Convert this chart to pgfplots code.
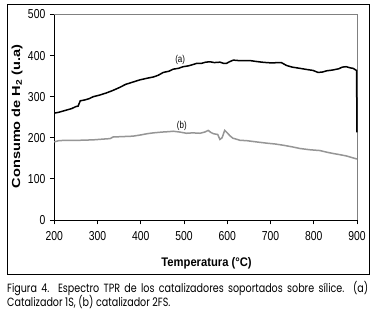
\documentclass[border=0pt]{standalone}
\usepackage{fontspec}
\usepackage{graphicx}
\usepackage{pgfplots}
\pgfplotsset{compat=1.18}
\setmainfont{Liberation Sans}
\newfontfamily\tickfont[FakeStretch=0.8]{Liberation Sans}
\newfontfamily\labfont[FakeStretch=0.9]{Liberation Sans}
\newfontfamily\ylabfont[FakeStretch=1.25]{Liberation Sans}
\newfontfamily\capfont[FakeStretch=0.8]{Poppins}
\definecolor{curveb}{RGB}{150,150,150}
\definecolor{border}{RGB}{128,128,128}
\begin{document}
\begin{tikzpicture}
\useasboundingbox (0,0) rectangle (376bp,315bp);
\fill[white] (0,0) rectangle (376bp,315bp);
\draw[black, line width=1bp] (7bp,40bp) rectangle (369bp,310bp);
\begin{axis}[
  at={(54.3bp,95bp)}, anchor=south west,
  scale only axis, width=302.7bp, height=205.5bp,
  xmin=200, xmax=900, ymin=0, ymax=500,
  xtick={200,300,...,900}, ytick={0,100,...,500},
  axis x line*=bottom, axis y line*=left,
  axis line style={black, line width=0.8bp},
  tick align=outside, major tick length=4.5bp,
  tick style={black, line width=0.8bp},
  /pgf/number format/assume math mode=true,
  tick label style={font=\tickfont\fontsize{13}{13}\selectfont},
  xticklabel style={yshift=-3bp},
  yticklabel style={xshift=-1bp},
  xlabel={\labfont\bfseries\fontsize{12.5}{12.5}\selectfont Temperatura (°C)},
  ylabel={\ylabfont\bfseries\fontsize{11.7}{11.7}\selectfont Consumo de H\textsubscript{2} (u.a)},
  every axis x label/.style={at={(axis description cs:0.503,-0.209)}, anchor=center},
  every axis y label/.style={at={(axis description cs:-0.123,0.504)}, anchor=center, rotate=90},
  clip=false,
]
\draw[border, line width=0.9bp] (rel axis cs:0,1) -- (rel axis cs:1,1) -- (rel axis cs:1,0);
\addplot[black, line width=1.5bp] coordinates {
(200,260) (210,262) (220,265) (230,268) (240,271) (250,276) (255,277) (260,290)
(270,292) (280,295) (290,300) (305,304) (320,309) (335,315) (350,322) (365,330)
(380,335) (398,341) (415,345) (429,348) (440,352) (452,359) (465,362) (475,367)
(487,369) (498,373) (510,375) (520,378) (529,381) (540,381) (550,384) (560,385)
(570,383) (583,384) (592,381) (598,381) (605,385) (614,389) (625,388) (640,388)
(652,388) (665,386) (680,384) (691,383) (705,382) (715,383) (725,383) (737,376)
(750,372) (768,369) (785,366) (798,364) (810,359) (820,360) (830,363) (844,365)
(858,368) (866,372) (875,373) (885,370) (891,369) (897,365) (899,364) (900,213)
};
\addplot[curveb, line width=1.5bp] coordinates {
(200,190) (210,193) (228,194) (260,194) (290,195) (315,197) (329,198) (336,202)
(360,203) (382,204) (400,207) (415,210) (429,212) (450,214) (465,215) (475,216)
(490,214) (506,211) (520,212) (537,211) (548,214) (556,218) (562,213) (568,210)
(578,208) (583,196) (588,200) (594,218) (600,212) (606,205) (613,199) (620,197)
(629,194) (645,193) (660,191) (675,189) (691,187) (710,185) (729,182) (750,178)
(768,174) (790,171) (814,169) (830,165) (844,162) (860,159) (875,156) (888,152)
(898,149) (900,149)
};
\node[font=\tickfont\fontsize{10}{10}\selectfont] at (axis cs:491,389) {(a)};
\node[font=\tickfont\fontsize{10}{10}\selectfont] at (axis cs:495,229) {(b)};
\end{axis}
\node[anchor=base west, inner sep=0pt] at (7bp,23bp) {\capfont\fontsize{12}{12}\selectfont\makebox[361bp][s]{Figura 4. Espectro TPR de los catalizadores soportados sobre sílice. (a)}};
\node[anchor=base west, inner sep=0pt] at (7bp,9bp) {\capfont\fontsize{12}{12}\selectfont Catalizador 1S, (b) catalizador 2FS.};
\end{tikzpicture}
\end{document}
